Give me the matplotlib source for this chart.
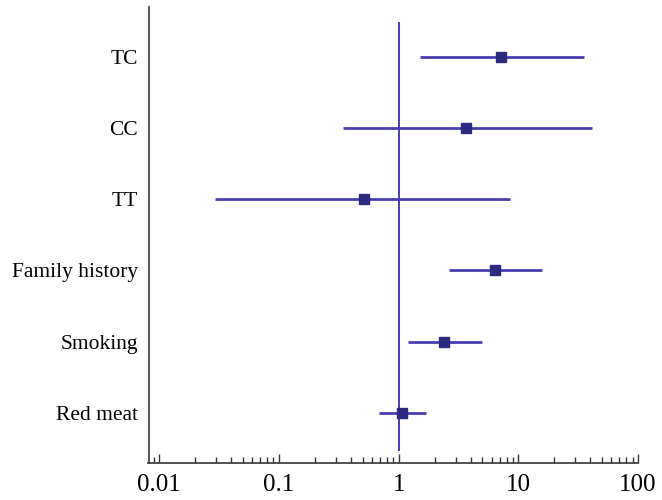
import matplotlib
matplotlib.use("Agg")
import matplotlib.pyplot as plt
from matplotlib.ticker import LogLocator, NullFormatter, FixedLocator, FixedFormatter

categories = ["TC", "CC", "TT", "Family history", "Smoking", "Red meat"]
odds_ratio = [7.2, 3.66, 0.51, 6.36, 2.40, 1.07]
ci_low = [1.51, 0.342, 0.0293, 2.61, 1.19, 0.687]
ci_high = [35.7, 41.4, 8.54, 15.7, 4.95, 1.69]
xtick_values = [0.01, 0.1, 1, 10, 100]
xtick_labels = ["0.01", "0.1", "1", "10", "100"]

plt.rcParams['font.family'] = ['Liberation Serif', 'DejaVu Serif']

fig = plt.figure(figsize=(6.62, 5.0), dpi=100)
ax = fig.add_axes([148.5/662, 1 - 462.5/500, (638-148.5)/662, (462.5-7.3)/500])

n = len(categories)
ypos = list(range(n, 0, -1))

line_col = "#4a3cb2"
mark_col = "#2b2a7e"

ax.vlines(1, 0.46, 6.5, color=line_col, lw=1.4, zorder=1)
ax.hlines(ypos, ci_low, ci_high, color=line_col, lw=2.0, zorder=2)
ax.plot(odds_ratio, ypos, 's', color=mark_col, ms=7.5, zorder=3)

ax.set_xscale('log')
ax.set_xlim(10**-2.09, 100)
ax.set_ylim(0.3, 6.7)

ax.xaxis.set_major_locator(FixedLocator(xtick_values))
ax.xaxis.set_major_formatter(FixedFormatter(xtick_labels))
ax.xaxis.set_minor_locator(LogLocator(base=10, subs=range(2, 10)))
ax.xaxis.set_minor_formatter(NullFormatter())
ax.tick_params(axis='x', which='major', direction='in', length=6.5, width=1.0,
               color='#333333', labelsize=18, pad=8)
ax.tick_params(axis='x', which='minor', direction='in', length=4.2, width=1.0, color='#333333')

ax.set_yticks(ypos)
ax.set_yticklabels(categories)
ax.tick_params(axis='y', length=0, labelsize=15.5, pad=7.5)

for s in ['top', 'right']:
    ax.spines[s].set_visible(False)
for s in ['left', 'bottom']:
    ax.spines[s].set_color('#444444')
    ax.spines[s].set_linewidth(1.3)

fig.savefig("out.png", dpi=100)
